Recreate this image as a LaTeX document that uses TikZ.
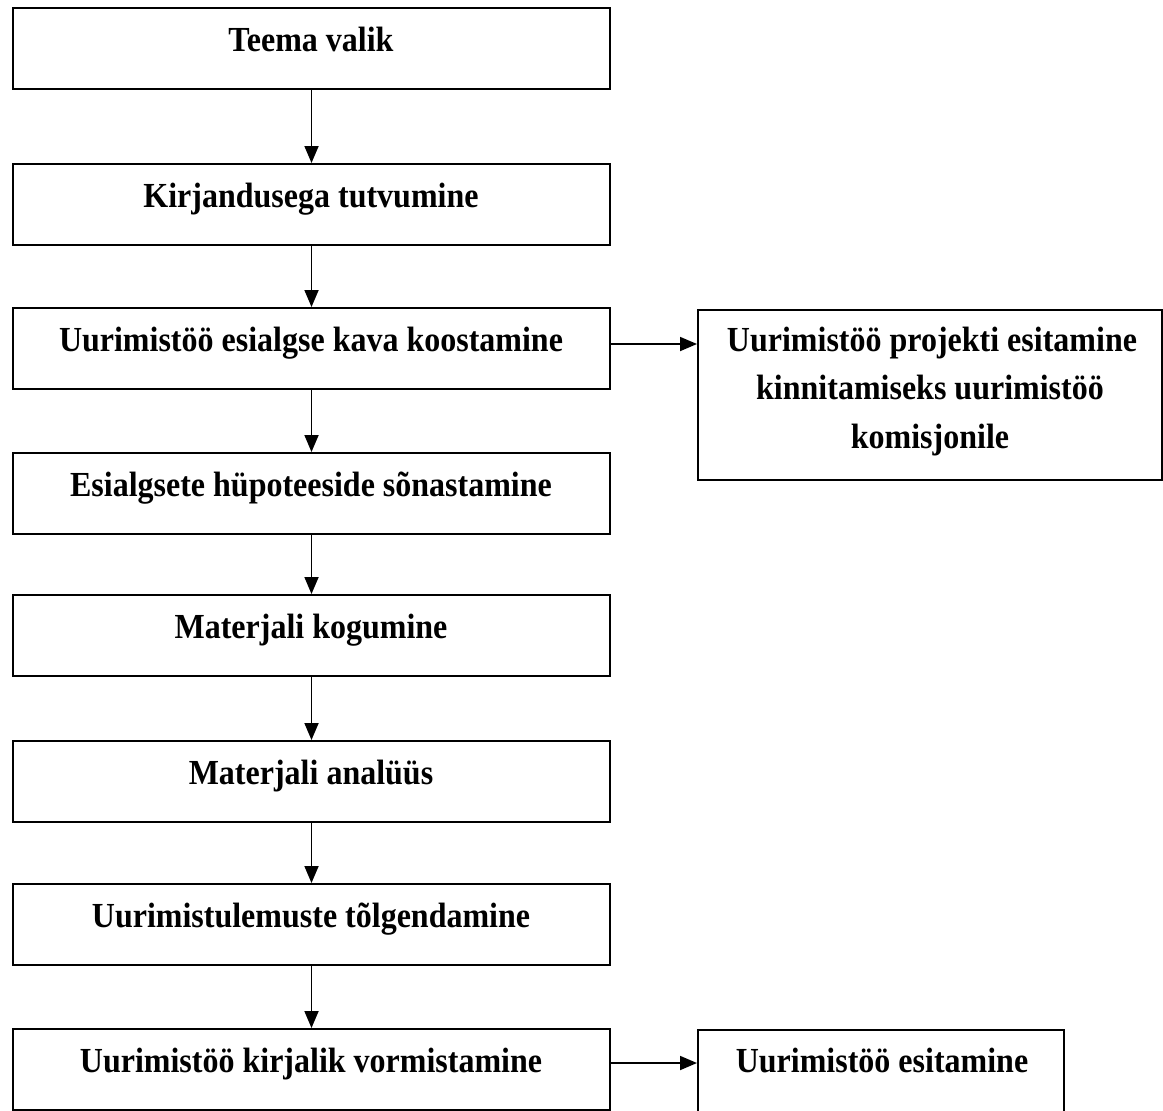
\documentclass[tikz,border=0pt]{standalone}
\usepackage{fontspec}
\usepackage{graphicx}
\setmainfont{Liberation Serif}
\usetikzlibrary{arrows.meta}
\newcommand{\tallt}[1]{\scalebox{1.0}[1.1]{#1}}
\begin{document}
\begin{tikzpicture}[x=1pt,y=-1pt,
  boxstyle/.style={draw, line width=2pt, inner sep=0pt, anchor=north west, minimum width=597pt, minimum height=81pt},
  sidebox/.style={draw, line width=2pt, inner sep=0pt, anchor=north west},
  lbl/.style={font=\fontsize{32}{48.5}\bfseries\selectfont, anchor=base, inner sep=0pt},
  arr/.style={-{Triangle[length=17pt,width=14pt]}, line width=1.8pt}]
\useasboundingbox (0,0) rectangle (1163,1111);
\clip (0,0) rectangle (1163,1111);
% main column boxes
\node[boxstyle] (b1) at (12,7) {};
\node[boxstyle] (b2) at (12,163) {};
\node[boxstyle] (b3) at (12,307) {};
\node[boxstyle] (b4) at (12,452) {};
\node[boxstyle] (b5) at (12,594) {};
\node[boxstyle] (b6) at (12,740) {};
\node[boxstyle] (b7) at (12,883) {};
\node[boxstyle] (b8) at (12,1028) {};
% side boxes
\node[sidebox, minimum width=464pt, minimum height=170pt] (r1) at (697,309) {};
\node[sidebox, minimum width=366pt, minimum height=120pt] (r2) at (697,1029) {};
% labels
\node[lbl] (t1) at (311,51) {\tallt{Teema valik}};
\node[lbl] (t2) at (311,207) {\tallt{Kirjandusega tutvumine}};
\node[lbl] (t3) at (311,351) {\tallt{Uurimistöö esialgse kava koostamine}};
\node[lbl] (t4) at (311,496) {\tallt{Esialgsete hüpoteeside sõnastamine}};
\node[lbl] (t5) at (311,638) {\tallt{Materjali kogumine}};
\node[lbl] (t6) at (311,784) {\tallt{Materjali analüüs}};
\node[lbl] (t7) at (311,927) {\tallt{Uurimistulemuste tõlgendamine}};
\node[lbl] (t8) at (311,1072) {\tallt{Uurimistöö kirjalik vormistamine}};
\node[lbl] (tr1a) at (932,351) {\tallt{Uurimistöö projekti esitamine}};
\node[lbl] (tr1b) at (930,399.5) {\tallt{kinnitamiseks uurimistöö}};
\node[lbl] (tr1c) at (930,448) {\tallt{komisjonile}};
\node[lbl] (tr2) at (882,1072) {\tallt{Uurimistöö esitamine}};
% connectors
\draw[arr] (b1.south) -- (b2.north);
\draw[arr] (b2.south) -- (b3.north);
\draw[arr] (b3.south) -- (b4.north);
\draw[arr] (b4.south) -- (b5.north);
\draw[arr] (b5.south) -- (b6.north);
\draw[arr] (b6.south) -- (b7.north);
\draw[arr] (b7.south) -- (b8.north);
\draw[arr] ([yshift=4.5pt]b3.east) -- ([yshift=4.5pt]b3.east -| r1.west);
\draw[arr] ([yshift=6.5pt]b8.east) -- ([yshift=6.5pt]b8.east -| r2.west);
\end{tikzpicture}
\end{document}
